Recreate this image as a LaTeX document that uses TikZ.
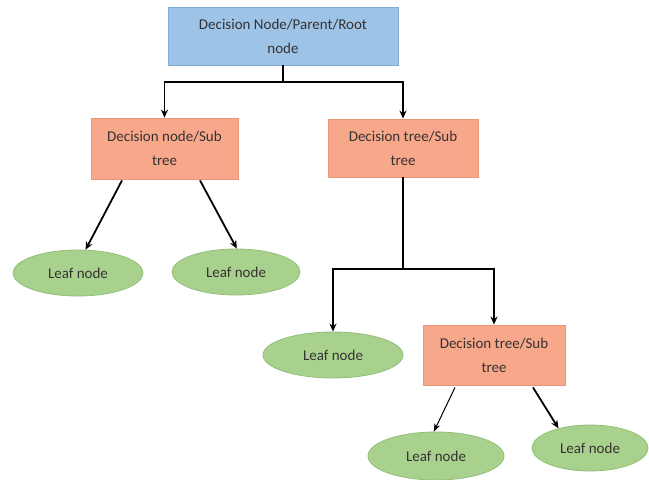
\documentclass[tikz,border=0pt]{standalone}
\usepackage{fontspec}
\setmainfont{Carlito}
\usetikzlibrary{arrows.meta,calc,shapes.geometric}
\definecolor{rootfill}{RGB}{157,195,230}
\definecolor{rootline}{RGB}{130,170,210}
\definecolor{subfill}{RGB}{247,167,138}
\definecolor{subline}{RGB}{235,150,120}
\definecolor{leaffill}{RGB}{169,209,142}
\definecolor{leafline}{RGB}{145,190,120}
\definecolor{txt}{RGB}{55,50,50}
\tikzset{
  lbl/.style={font=\fontsize{15}{24}\selectfont, text=txt, align=center, inner sep=0pt},
  rootbox/.style={lbl, rectangle, fill=rootfill, draw=rootline, line width=0.8pt},
  subbox/.style={lbl, rectangle, fill=subfill, draw=subline, line width=0.8pt},
  leaf/.style={lbl, ellipse, fill=leaffill, draw=leafline, line width=0.8pt},
  link/.style={line width=1.8pt, black},
  arr/.style={link, -{Stealth[length=8pt,width=7pt]}},
  thinarr/.style={line width=1pt, black, -{Stealth[length=8pt,width=6pt]}},
}
\begin{document}
\begin{tikzpicture}[x=1pt,y=-1pt]
\useasboundingbox (0,0) rectangle (649,480);
\node[rootbox, minimum width=230, minimum height=58] (root) at (283,36) {Decision Node/Parent/Root\\node};
\node[subbox, minimum width=147, minimum height=61] (lbox) at (164.5,148.5) {Decision node/Sub\\tree};
\node[subbox, minimum width=150, minimum height=58] (rbox) at (403,148) {Decision tree/Sub\\tree};
\node[subbox, minimum width=142, minimum height=60] (box4) at (494,355) {Decision tree/Sub\\tree};
\node[leaf, minimum width=130, minimum height=46] (leaf1) at (78,273) {Leaf node};
\node[leaf, minimum width=128, minimum height=46] (leaf2) at (236,272) {Leaf node};
\node[leaf, minimum width=140, minimum height=46] (leaf3) at (333,355) {Leaf node};
\node[leaf, minimum width=136, minimum height=48] (leaf4) at (436,456) {Leaf node};
\node[leaf, minimum width=116, minimum height=46] (leaf5) at (590,448) {Leaf node};
\coordinate (j1) at (283,82);
\coordinate (j2) at (403,269);
\draw[link] (root.south) -- (j1);
\draw[arr] (j1) -| (lbox);
\draw[arr] (j1) -| (rbox);
\draw[link] (rbox.south) -- (j2);
\draw[arr] (j2) -| (leaf3);
\draw[arr] (j2) -| (box4);
\draw[arr] ($(lbox.south)+(-42.5,1)$) -- (leaf1.72);
\draw[arr] ($(lbox.south)+(35.5,1)$) -- (leaf2.88);
\draw[thinarr] ($(box4.south)+(-39,2)$) -- (leaf4.95);
\draw[arr] ($(box4.south)+(39,2)$) -- (leaf5.148);
\end{tikzpicture}
\end{document}
